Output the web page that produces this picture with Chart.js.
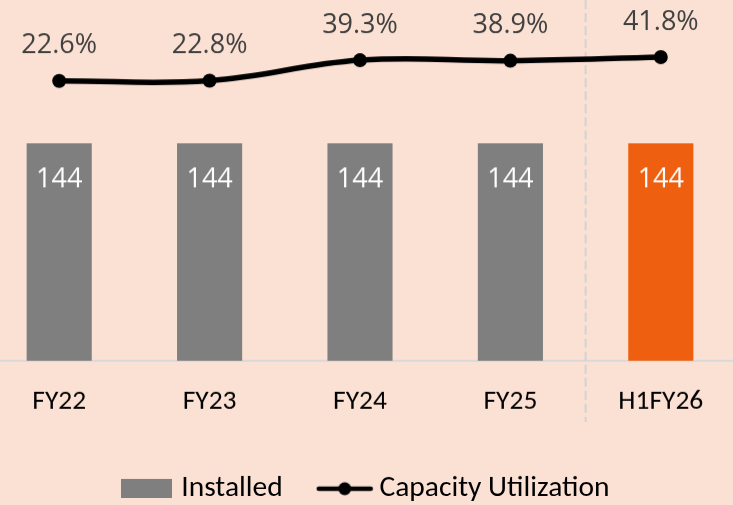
<!DOCTYPE html>
<html><head><meta charset="utf-8">
<script src="https://cdn.jsdelivr.net/npm/chart.js@4/dist/chart.umd.min.js"></script>
<style>
html,body{margin:0;padding:0;width:733px;height:505px;overflow:hidden;background:#FBE1D4;}
#wrap{position:absolute;left:-16px;top:0;width:752px;height:512.5px;}
</style></head><body>
<div id="wrap"><canvas id="c"></canvas></div>
<script>
const categories = ['FY22', 'FY23', 'FY24', 'FY25', 'H1FY26'];
const installed = [144, 144, 144, 144, 144];
const utilization = [22.6, 22.8, 39.3, 38.9, 41.8];
const utilizationLabels = ['22.6%', '22.8%', '39.3%', '38.9%', '41.8%'];
const installedLabels = ['144', '144', '144', '144', '144'];
const barColors = ['#7F7F7F', '#7F7F7F', '#7F7F7F', '#7F7F7F', '#EE600F'];
const seriesNames = ['Installed', 'Capacity Utilization'];

function rectImg() {
  const c = document.createElement('canvas'); c.width = 51; c.height = 19;
  const g = c.getContext('2d'); g.fillStyle = '#7F7F7F'; g.fillRect(0, 0, 51, 19);
  return c;
}
function lineImg() {
  const c = document.createElement('canvas'); c.width = 58; c.height = 16;
  const g = c.getContext('2d');
  g.strokeStyle = '#000'; g.lineWidth = 4.5; g.lineCap = 'round';
  g.beginPath(); g.moveTo(3, 8); g.lineTo(55, 8); g.stroke();
  g.fillStyle = '#000'; g.beginPath(); g.arc(29, 8, 6.5, 0, Math.PI * 2); g.fill();
  return c;
}
const legendImgs = [rectImg(), lineImg()];

const extras = {
  id: 'extras',
  afterLayout(chart) {
    if (chart.legend) { chart.legend.left += 8; chart.legend.right += 8; }
  },
  beforeDatasetsDraw(chart) {
    const ctx = chart.ctx, xs = chart.scales.x;
    const x = (xs.getPixelForValue(3) + xs.getPixelForValue(4)) / 2;
    ctx.save();
    ctx.strokeStyle = '#D3D3D3'; ctx.lineWidth = 2; ctx.setLineDash([9, 4]);
    ctx.beginPath(); ctx.moveTo(x, 0); ctx.lineTo(x, 421); ctx.stroke();
    ctx.restore();
  },
  afterDatasetsDraw(chart) {
    const ctx = chart.ctx;
    ctx.save();
    ctx.textAlign = 'center'; ctx.textBaseline = 'alphabetic';
    ctx.font = '27px "Open Sans"';
    const bars = chart.getDatasetMeta(0).data;
    ctx.fillStyle = '#FFFFFF';
    bars.forEach((b, i) => ctx.fillText(installedLabels[i], b.x, b.y + 43.5));
    const pts = chart.getDatasetMeta(1).data;
    ctx.fillStyle = '#404040';
    pts.forEach((p, i) => ctx.fillText(utilizationLabels[i], p.x, p.y - 27.5));
    ctx.restore();
  }
};

new Chart(document.getElementById('c'), {
  type: 'bar',
  data: {
    labels: categories,
    datasets: [
      { type: 'bar', label: seriesNames[0], data: installed, backgroundColor: barColors,
        yAxisID: 'y', categoryPercentage: 1, barPercentage: 0.433, order: 2 },
      { type: 'line', label: seriesNames[1], data: utilization, yAxisID: 'y2',
        borderColor: '#000', backgroundColor: '#000', borderWidth: 5.5, tension: 0.4,
        pointRadius: 7, pointBackgroundColor: '#000', pointBorderWidth: 0, order: 1 }
    ]
  },
  options: {
    responsive: true, maintainAspectRatio: false, animation: false,
    layout: { padding: 0, autoPadding: false },
    plugins: {
      tooltip: { enabled: false },
      legend: {
        position: 'bottom',
        labels: {
          usePointStyle: true, pointStyleWidth: 40, padding: 42,
          font: { family: 'Carlito, Calibri, Lato', size: 29.5 }, color: '#000',
          generateLabels: () => seriesNames.map((n, i) => ({
            text: n, pointStyle: legendImgs[i], fillStyle: '#000', strokeStyle: '#000',
            lineWidth: 0, hidden: false, datasetIndex: i, fontColor: '#000'
          }))
        }
      }
    },
    scales: {
      x: {
        grid: { display: false, drawTicks: false },
        border: { display: true, color: '#D9D9D9', width: 2 },
        ticks: { font: { family: 'Carlito, Calibri, Lato', size: 27.5 }, color: '#000', padding: 25, maxRotation: 0 },
        afterFit: (a) => { a.height = 71; }
      },
      y: { display: false, min: 0, max: 239 },
      y2: { display: false, min: -203.7, max: 88 }
    }
  },
  plugins: [extras]
});
</script>
</body></html>
